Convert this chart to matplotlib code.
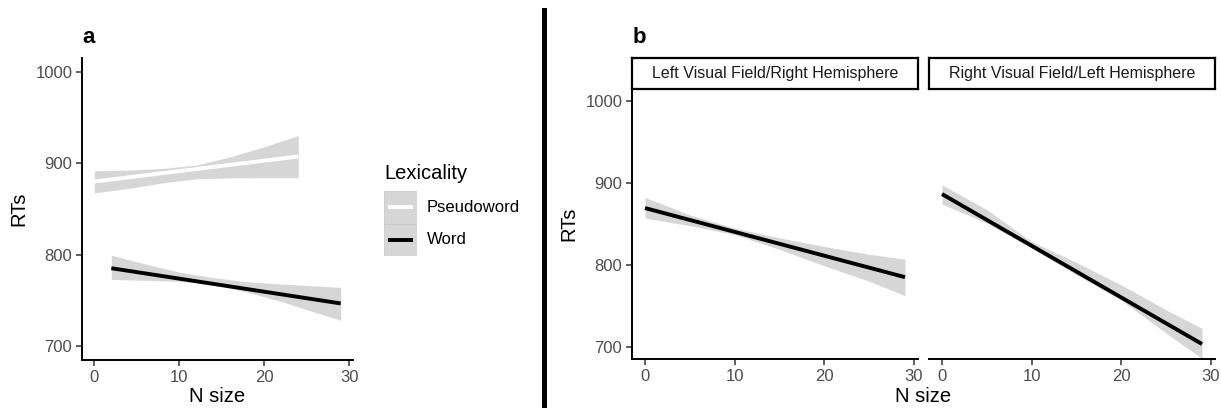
import matplotlib
matplotlib.use("Agg")
import matplotlib.pyplot as plt
from matplotlib.lines import Line2D
from matplotlib.patches import Rectangle

plt.rcParams['font.family'] = ['Liberation Sans', 'DejaVu Sans']

# --- panel a: RT by N size, split by lexicality ---
lex_labels = ['Pseudoword', 'Word']
lex_colors = ['white', 'black']

pseudo_x = [0, 24]
pseudo_fit = [880.0, 907.4]
pseudo_band_x = [0, 4, 8, 12, 16, 20, 24]
pseudo_band_hi = [891.7, 892.5, 894.3, 898.0, 907.0, 918.0, 930.3]
pseudo_band_lo = [867.6, 872.5, 878.5, 883.0, 884.0, 884.3, 884.3]

word_x = [2, 29]
word_fit = [785.3, 746.8]
word_band_x = [2, 6, 10, 14, 18, 22, 26, 29]
word_band_hi = [799.5, 790.0, 781.0, 775.0, 770.5, 768.0, 766.0, 764.3]
word_band_lo = [773.1, 772.0, 771.0, 768.0, 759.0, 749.0, 737.0, 728.5]

# --- panel b: word RTs by visual field / hemisphere ---
facet_titles = ["Left Visual Field/Right Hemisphere", "Right Visual Field/Left Hemisphere"]
facet_x = [0, 29]
facet_fit = [[869.5, 785.0], [886.6, 703.3]]
facet_band_x = [0, 5, 10, 15, 20, 25, 29]
facet_band_hi = [[882.5, 861.0, 845.0, 833.0, 822.5, 813.0, 807.0],
                 [898.0, 867.5, 828.5, 803.0, 775.5, 745.0, 722.5]]
facet_band_lo = [[857.2, 848.0, 837.0, 819.0, 799.0, 780.0, 762.5],
                 [874.4, 851.0, 820.5, 788.0, 757.0, 716.5, 685.8]]

x_ticks = [0, 10, 20, 30]
y_ticks = [700, 800, 900, 1000]
y_lim = (685, 1015)
x_lim = (-1.45, 30.45)

band_col = '#d6d6d6'
tick_col = '#4d4d4d'

W, H = 1221, 408
fig = plt.figure(figsize=(W / 100, H / 100), dpi=100)


def px_box(x0, y0, x1, y1):
    # convert a pixel box (top-left origin) into figure fractions
    return [x0 / W, 1 - y1 / H, (x1 - x0) / W, (y1 - y0) / H]


def style_axis(ax, show_y=True):
    ax.set_xlim(*x_lim)
    ax.set_ylim(*y_lim)
    ax.set_xticks(x_ticks)
    ax.set_yticks(y_ticks)
    for s in ['top', 'right']:
        ax.spines[s].set_visible(False)
    ax.spines['bottom'].set_linewidth(1.4)
    ax.spines['left'].set_linewidth(1.4)
    ax.tick_params(axis='both', length=4, width=1.1, color='#333333',
                   labelcolor=tick_col, labelsize=12, pad=3)
    if not show_y:
        ax.spines['left'].set_visible(False)
        ax.tick_params(axis='y', left=False, labelleft=False)


# panel a
ax_a = fig.add_axes(px_box(82, 58, 353, 360))
style_axis(ax_a)
ax_a.fill_between(pseudo_band_x, pseudo_band_lo, pseudo_band_hi, color=band_col, lw=0)
ax_a.plot(pseudo_x, pseudo_fit, color=lex_colors[0], lw=2.8, solid_capstyle='butt')
ax_a.fill_between(word_band_x, word_band_lo, word_band_hi, color=band_col, lw=0)
ax_a.plot(word_x, word_fit, color=lex_colors[1], lw=2.8, solid_capstyle='butt')
ax_a.set_ylabel('RTs', fontsize=14.5, labelpad=5)
ax_a.set_xlabel('N size', fontsize=14.5, labelpad=2)

# legend drawn by hand: grey key squares with the line on top
leg_ax = fig.add_axes(px_box(384, 191, 417, 256))
leg_ax.set_xlim(0, 1)
leg_ax.set_ylim(0, len(lex_labels))
leg_ax.axis('off')
fig.text(384 / W, 1 - 173 / H, 'Lexicality', fontsize=14.5, ha='left', va='center')
for k, (lab, col) in enumerate(zip(lex_labels, lex_colors)):
    row = len(lex_labels) - 1 - k
    leg_ax.add_patch(Rectangle((0, row), 1, 1, facecolor=band_col, edgecolor='#c4c4c4', lw=0.5))
    leg_ax.plot([0.13, 0.87], [row + 0.5, row + 0.5], color=col, lw=2.8, solid_capstyle='butt')
    fig.text(427 / W, 1 - (207.5 + 32.5 * k) / H, lab, fontsize=12, ha='left', va='center')

# panel b facets
facet_px = [(632, 918), (929, 1215)]
for i, (x0, x1) in enumerate(facet_px):
    ax = fig.add_axes(px_box(x0, 89, x1, 359))
    style_axis(ax, show_y=(i == 0))
    ax.fill_between(facet_band_x, facet_band_lo[i], facet_band_hi[i], color=band_col, lw=0)
    ax.plot(facet_x, facet_fit[i], color='black', lw=2.8, solid_capstyle='butt')
    if i == 0:
        ax.set_ylabel('RTs', fontsize=14.5, labelpad=5)
    # strip label box
    sx = fig.add_axes(px_box(x0, 58, x1, 89))
    sx.set_xticks([])
    sx.set_yticks([])
    for s in sx.spines.values():
        s.set_linewidth(1.6)
        s.set_color('black')
    sx.text(0.5, 0.5, facet_titles[i], ha='center', va='center', fontsize=11.5,
            color='#1a1a1a', transform=sx.transAxes)

fig.text((632 + 1215) / 2 / W, 1 - 397 / H, 'N size', ha='center', va='center', fontsize=14.5)

# panel letters
fig.text(82 / W, 1 - 43 / H, 'a', fontsize=16, fontweight='bold', ha='left', va='baseline')
fig.text(633 / W, 1 - 43 / H, 'b', fontsize=16, fontweight='bold', ha='left', va='baseline')

# divider between panels
fig.add_artist(Line2D([544 / W, 544 / W], [0, 1 - 10 / H], color='black', lw=3.6,
                      transform=fig.transFigure))

fig.savefig('out.png', dpi=100)
